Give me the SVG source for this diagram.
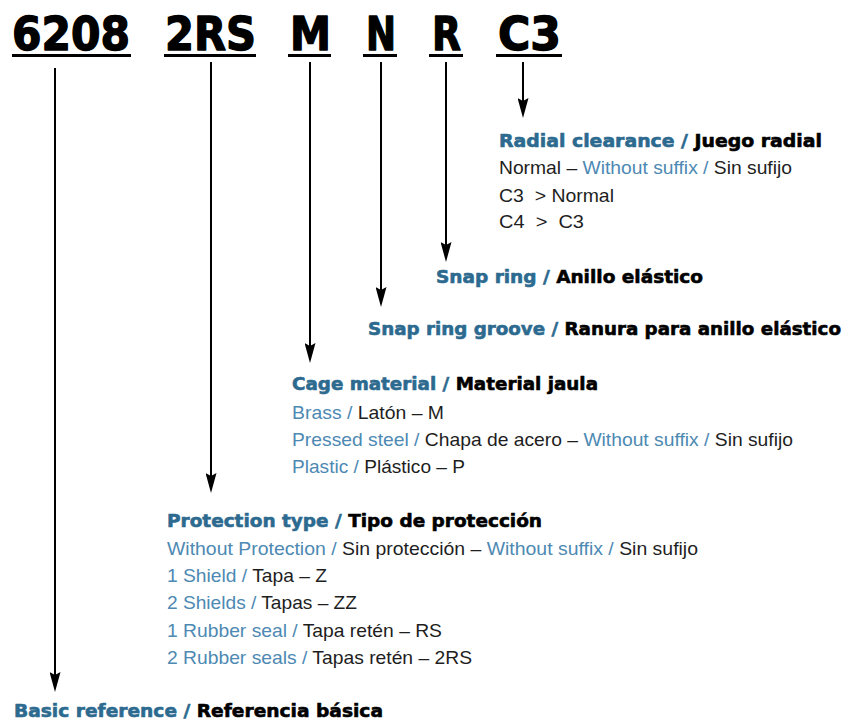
<svg xmlns="http://www.w3.org/2000/svg" width="846" height="720" viewBox="0 0 846 720">
<style>
.code{font-family:"DejaVu Sans","Liberation Sans",sans-serif;font-weight:bold;font-size:46px;fill:#000;stroke:#000;stroke-width:1.4;stroke-linejoin:round}
.hd{font-family:"DejaVu Sans","Liberation Sans",sans-serif;font-weight:bold;font-size:18px;stroke-width:0.6;stroke-linejoin:round}
.tx{font-family:"Liberation Sans",Arial,sans-serif;font-size:18.5px;fill:#1e1e1e}
.hb{fill:#2d6a8f;stroke:#2d6a8f}
.hk{fill:#000;stroke:#000}
.b{fill:#4d89b3}
.ul{fill:#000}
.conn line{stroke:#000;stroke-width:2;fill:none}
</style>
<defs>
<marker id="ah" markerUnits="userSpaceOnUse" viewBox="0 0 20 11" markerWidth="20" markerHeight="11" refX="10" refY="5.5" orient="auto">
<path d="M0,0 L20,5.5 L0,11 L3,5.5 z" fill="#000"/>
</marker>
</defs>
<rect width="846" height="720" fill="#fff"/>

<g id="code">
<g id="c6208"><text class="code" x="12" y="50" textLength="118" lengthAdjust="spacingAndGlyphs">6208</text><rect class="ul" x="12" y="54" width="119" height="3"/></g>
<g id="c2RS"><text class="code" x="165" y="50" textLength="91" lengthAdjust="spacingAndGlyphs">2RS</text><rect class="ul" x="164" y="54" width="92" height="3"/></g>
<g id="cM"><text class="code" x="290" y="50" textLength="41" lengthAdjust="spacingAndGlyphs">M</text><rect class="ul" x="288" y="54" width="43" height="3"/></g>
<g id="cN"><text class="code" x="366" y="50" textLength="30" lengthAdjust="spacingAndGlyphs">N</text><rect class="ul" x="363" y="54" width="34" height="3"/></g>
<g id="cR"><text class="code" x="432" y="50" textLength="29" lengthAdjust="spacingAndGlyphs">R</text><rect class="ul" x="429" y="54" width="34" height="3"/></g>
<g id="cC3"><text class="code" x="498" y="50" textLength="63" lengthAdjust="spacingAndGlyphs">C3</text><rect class="ul" x="496" y="54" width="66" height="3"/></g>
</g>

<g id="connectors" class="conn">
<line x1="55" y1="68" x2="55" y2="682" marker-end="url(#ah)"/>
<line x1="211" y1="62" x2="211" y2="483" marker-end="url(#ah)"/>
<line x1="310" y1="62" x2="310" y2="353" marker-end="url(#ah)"/>
<line x1="381" y1="62" x2="381" y2="297" marker-end="url(#ah)"/>
<line x1="446" y1="62" x2="446" y2="252" marker-end="url(#ah)"/>
<line x1="523" y1="62" x2="523" y2="108" marker-end="url(#ah)"/>
</g>

<g id="radial">
<text class="hd" x="499" y="147" textLength="323" lengthAdjust="spacingAndGlyphs"><tspan class="hb">Radial clearance / </tspan><tspan class="hk">Juego radial</tspan></text>
<text class="tx" x="499" y="174" textLength="293" lengthAdjust="spacingAndGlyphs">Normal – <tspan class="b">Without suffix / </tspan>Sin sufijo</text>
<text class="tx" x="499" y="202" textLength="115" lengthAdjust="spacingAndGlyphs" xml:space="preserve">C3  &gt; Normal</text>
<text class="tx" x="499" y="228" textLength="85" lengthAdjust="spacingAndGlyphs" xml:space="preserve">C4  &gt;  C3</text>
</g>

<g id="snapring">
<text class="hd" x="436" y="283" textLength="267" lengthAdjust="spacingAndGlyphs"><tspan class="hb">Snap ring / </tspan><tspan class="hk">Anillo elástico</tspan></text>
</g>

<g id="snapgroove">
<text class="hd" x="368" y="335" textLength="473" lengthAdjust="spacingAndGlyphs"><tspan class="hb">Snap ring groove / </tspan><tspan class="hk">Ranura para anillo elástico</tspan></text>
</g>

<g id="cage">
<text class="hd" x="292" y="390" textLength="306" lengthAdjust="spacingAndGlyphs"><tspan class="hb">Cage material / </tspan><tspan class="hk">Material jaula</tspan></text>
<text class="tx" x="292" y="419" textLength="152" lengthAdjust="spacingAndGlyphs"><tspan class="b">Brass / </tspan>Latón – M</text>
<text class="tx" x="292" y="446" textLength="501" lengthAdjust="spacingAndGlyphs"><tspan class="b">Pressed steel / </tspan>Chapa de acero – <tspan class="b">Without suffix / </tspan>Sin sufijo</text>
<text class="tx" x="292" y="473" textLength="173" lengthAdjust="spacingAndGlyphs"><tspan class="b">Plastic / </tspan>Plástico – P</text>
</g>

<g id="protection">
<text class="hd" x="167" y="527" textLength="375" lengthAdjust="spacingAndGlyphs"><tspan class="hb">Protection type / </tspan><tspan class="hk">Tipo de protección</tspan></text>
<text class="tx" x="167" y="555" textLength="531" lengthAdjust="spacingAndGlyphs"><tspan class="b">Without Protection / </tspan>Sin protección – <tspan class="b">Without suffix / </tspan>Sin sufijo</text>
<text class="tx" x="167" y="582" textLength="160" lengthAdjust="spacingAndGlyphs"><tspan class="b">1 Shield / </tspan>Tapa – Z</text>
<text class="tx" x="167" y="609" textLength="190" lengthAdjust="spacingAndGlyphs"><tspan class="b">2 Shields / </tspan>Tapas – ZZ</text>
<text class="tx" x="167" y="637" textLength="275" lengthAdjust="spacingAndGlyphs"><tspan class="b">1 Rubber seal / </tspan>Tapa retén – RS</text>
<text class="tx" x="167" y="664" textLength="305" lengthAdjust="spacingAndGlyphs"><tspan class="b">2 Rubber seals / </tspan>Tapas retén – 2RS</text>
</g>

<g id="basic">
<text class="hd" x="14" y="717" textLength="369" lengthAdjust="spacingAndGlyphs"><tspan class="hb">Basic reference / </tspan><tspan class="hk">Referencia básica</tspan></text>
</g>
</svg>
